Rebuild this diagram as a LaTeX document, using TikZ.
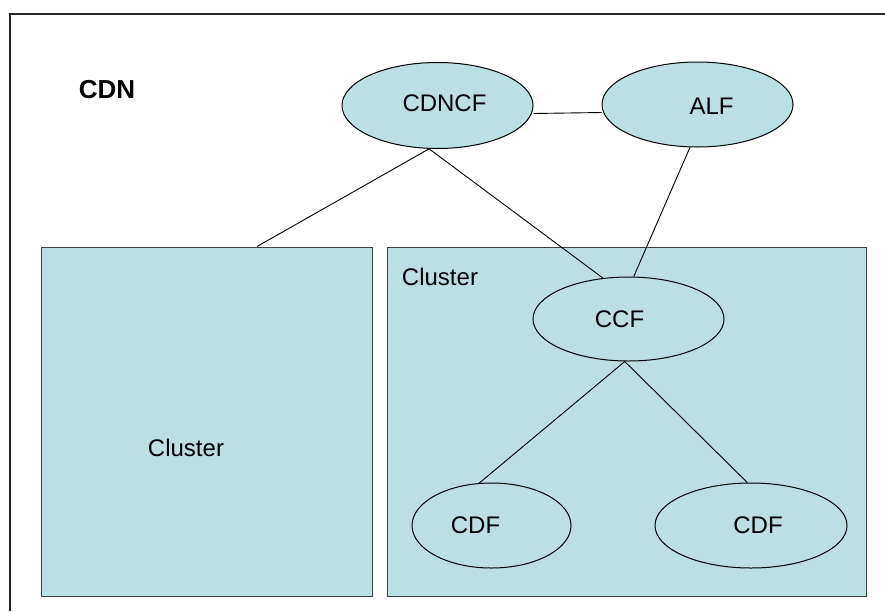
\documentclass[tikz,border=0pt]{standalone}
\usepackage{fontspec}
\setmainfont{Liberation Sans}
\usetikzlibrary{shapes.geometric}
\definecolor{cdnfill}{RGB}{187,224,227}

\begin{document}
\begin{tikzpicture}[x=1pt, y=-1pt,
  box/.style={draw=black!75, line width=1pt, fill=cdnfill, inner sep=0pt},
  func/.style={ellipse, draw, line width=1pt, fill=cdnfill, inner sep=0pt},
  lbl/.style={font=\fontsize{24}{28}\selectfont, inner sep=0pt},
  link/.style={line width=0.9pt}
]
  \useasboundingbox (0,0) rectangle (885,611);
  % outer frame, cut off at right and bottom
  \draw[line width=2pt, black!85] (885,13.5) -- (9.5,13.5) -- (9.5,611);
  \node[font=\fontsize{26}{30}\selectfont\bfseries, inner sep=0pt] (cdn) at (107,90) {CDN};

  \node[box, minimum width=331, minimum height=349] (clusterA) at (206.5,421.5) {};
  \node[box, minimum width=479, minimum height=349] (clusterB) at (626.5,421.5) {};
  \node[lbl] (lblA) at (186,448) {Cluster};
  \node[lbl] (lblB) at (440,277) {Cluster};

  \node[func, minimum width=191, minimum height=86,
    label={[lbl, xshift=7pt, yshift=2pt]center:CDNCF}] (cdncf) at (437.5,105.5) {};
  \node[func, minimum width=191, minimum height=85,
    label={[lbl, xshift=14pt, yshift=-2pt]center:ALF}] (alf) at (697.5,104.5) {};
  \node[func, minimum width=191, minimum height=84,
    label={[lbl, xshift=-9pt]center:CCF}] (ccf) at (628.5,319) {};
  \node[func, minimum width=159, minimum height=85,
    label={[lbl, xshift=-16pt]center:CDF}] (cdfA) at (491.5,525.5) {};
  \node[func, minimum width=192, minimum height=85,
    label={[lbl, xshift=7pt]center:CDF}] (cdfB) at (751,525.5) {};

  \draw[link] ([yshift=-8pt]cdncf.east) -- ([yshift=-8pt]alf.west);
  \draw[link] (cdncf.259) -- ([xshift=50.5pt]clusterA.north);
  \draw[link] (cdncf.259) -- (ccf.122);
  \draw[link] (alf.260) -- (ccf.83);
  \draw[link] (ccf.265) -- (cdfA.106);
  \draw[link] (ccf.265) -- (cdfB.95);
\end{tikzpicture}
\end{document}
